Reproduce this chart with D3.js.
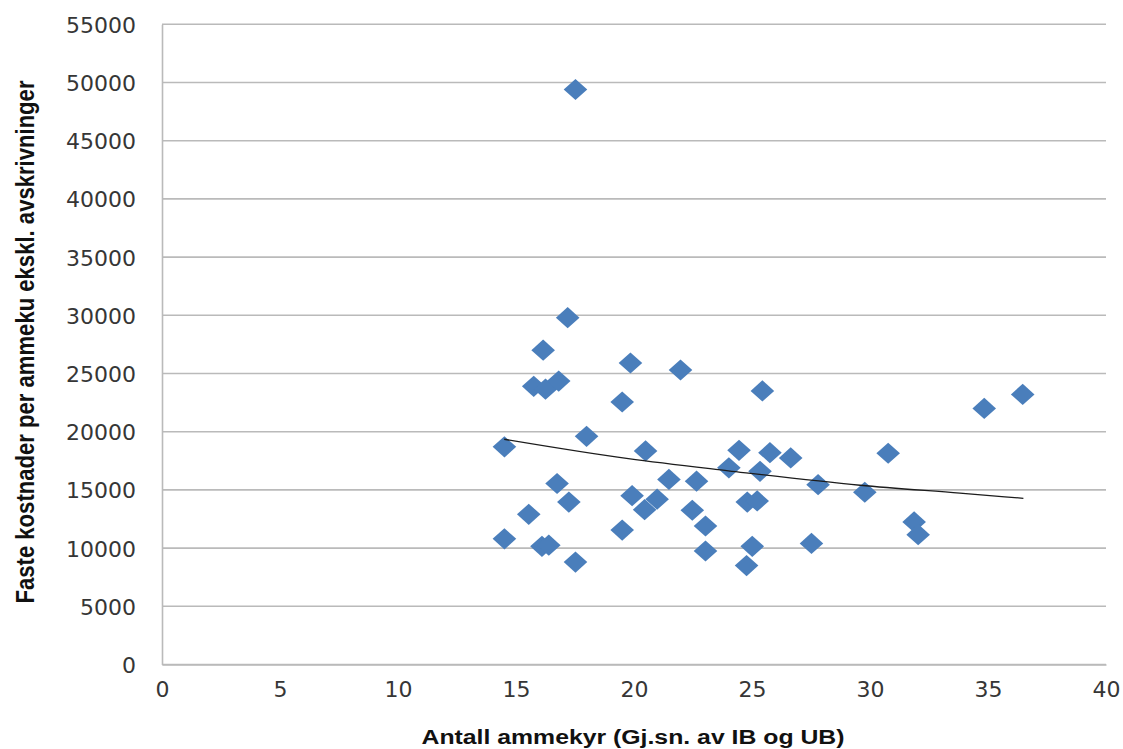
<!DOCTYPE html>
<html>
<head>
<meta charset="utf-8">
<script src="https://cdn.jsdelivr.net/npm/d3@7"></script>
<style>
  html, body { margin: 0; padding: 0; background: #ffffff; }
  svg { display: block; }
</style>
</head>
<body>
<svg id="chart" width="1123" height="749"></svg>
<script>
// ---- data ----
const xValues = [17.52, 17.19, 16.15, 15.75, 16.25, 16.81, 19.85, 21.97, 25.44, 19.5,
                 14.51, 17.99, 20.49, 24.45, 25.76, 26.64, 24.02, 25.34, 21.48, 22.65,
                 16.74, 19.92, 20.98, 17.24, 20.45, 24.8, 25.22, 22.47, 15.54, 23.03,
                 19.5, 14.51, 16.1, 16.39, 23.03, 25.01, 17.52, 24.77, 34.84, 36.47,
                 30.77, 27.8, 29.78, 31.87, 32.04, 27.52];
const yValues = [49400, 29800, 27000, 23900, 23650, 24350, 25900, 25300, 23500, 22550,
                 18700, 19600, 18350, 18400, 18200, 17750, 16900, 16600, 15900, 15750,
                 15550, 14500, 14200, 13950, 13300, 13950, 14050, 13250, 12900, 11900,
                 11550, 10800, 10150, 10250, 9750, 10150, 8800, 8500, 22000, 23200,
                 18150, 15450, 14800, 12250, 11150, 10400];
// trendline (logarithmic, as drawn in the reference) read at a few x positions
const trendX = [14.5, 19.76, 24.0, 29.58, 33.81, 36.5];
const trendY = [19350, 17680, 16640, 15400, 14720, 14280];
const xTicks = [0, 5, 10, 15, 20, 25, 30, 35, 40];
const yTicks = [0, 5000, 10000, 15000, 20000, 25000, 30000, 35000, 40000, 45000, 50000, 55000];
const xTitle = "Antall ammekyr (Gj.sn. av IB og UB)";
const yTitle = "Faste kostnader per ammeku ekskl. avskrivninger";

// ---- layout ----
const svg = d3.select("#chart");
const plot = { left: 162, right: 1106, top: 24.3, bottom: 664.5 };

const x = d3.scaleLinear().domain([0, 40]).range([plot.left, plot.right]);
const y = d3.scaleLinear().domain([0, 55000]).range([plot.bottom, plot.top]);

const gridColor = "#bababa";
const textColor = "#363636";

// gridlines
svg.append("g")
  .selectAll("line")
  .data(yTicks)
  .join("line")
  .attr("x1", plot.left).attr("x2", plot.right)
  .attr("y1", d => y(d)).attr("y2", d => y(d))
  .attr("stroke", gridColor).attr("stroke-width", 1.6);

// y axis
const yAxis = svg.append("g")
  .attr("transform", `translate(${plot.left},0)`)
  .call(d3.axisLeft(y).tickValues(yTicks).tickSize(0).tickPadding(26).tickFormat(d3.format("d")));
yAxis.select(".domain").attr("stroke", gridColor).attr("stroke-width", 1.6);
yAxis.selectAll("text")
  .attr("font-family", "DejaVu Sans, sans-serif")
  .attr("font-size", 22)
  .attr("fill", textColor)
  .attr("dy", "0.36em");

// x axis
const xAxis = svg.append("g")
  .attr("transform", `translate(0,${plot.bottom})`)
  .call(d3.axisBottom(x).tickValues(xTicks).tickSize(0).tickPadding(25).tickFormat(d3.format("d")));
xAxis.select(".domain").attr("stroke", gridColor).attr("stroke-width", 1.6);
xAxis.selectAll("text")
  .attr("font-family", "DejaVu Sans, sans-serif")
  .attr("font-size", 22)
  .attr("fill", textColor)
  .attr("dy", "0.35em");

// points (diamonds)
const pts = xValues.map((v, i) => ({ x: v, y: yValues[i] }));
const hw = 11.8, hh = 10.6;
svg.append("g")
  .selectAll("path")
  .data(pts)
  .join("path")
  .attr("transform", d => `translate(${x(d.x)},${y(d.y)})`)
  .attr("d", `M0,${-hh}L${hw},0L0,${hh}L${-hw},0Z`)
  .attr("fill", "#4a7ebb");

// trendline
const trend = trendX.map((v, i) => ({ x: v, y: trendY[i] }));
svg.append("path")
  .datum(trend)
  .attr("fill", "none")
  .attr("stroke", "#1c1c1c")
  .attr("stroke-width", 1.3)
  .attr("d", d3.line().curve(d3.curveMonotoneX).x(d => x(d.x)).y(d => y(d.y)));

// axis titles
svg.append("text")
  .attr("x", 633).attr("y", 744)
  .attr("text-anchor", "middle")
  .attr("font-family", "Liberation Sans, Arial, sans-serif")
  .attr("font-weight", "bold")
  .attr("font-size", 20)
  .attr("fill", "#111")
  .attr("textLength", 423)
  .attr("lengthAdjust", "spacingAndGlyphs")
  .text(xTitle);

svg.append("text")
  .attr("transform", "translate(34,342) rotate(-90)")
  .attr("text-anchor", "middle")
  .attr("font-family", "Liberation Sans, Arial, sans-serif")
  .attr("font-weight", "bold")
  .attr("font-size", 25)
  .attr("fill", "#111")
  .attr("textLength", 523)
  .attr("lengthAdjust", "spacingAndGlyphs")
  .text(yTitle);
</script>
</body>
</html>
